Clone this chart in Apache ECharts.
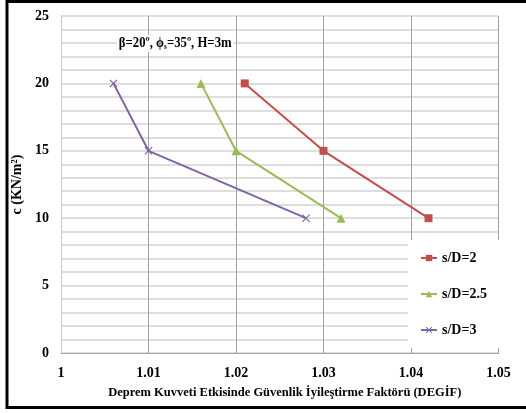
<!DOCTYPE html>
<html>
<head>
<meta charset="utf-8">
<script src="https://cdn.jsdelivr.net/npm/echarts@6/dist/echarts.min.js"></script>
<style>
  html, body { margin: 0; padding: 0; background: #fff; }
  #chart { width: 526px; height: 413px; }
</style>
</head>
<body>
<div id="chart"></div>
<script>
// Safety-improvement factor vs. cohesion for three pile spacings
const seriesNames = ['s/D=2', 's/D=2.5', 's/D=3'];
const cohesion = [20, 15, 10];
const factorSD2 = [1.021, 1.030, 1.042];
const factorSD25 = [1.016, 1.020, 1.032];
const factorSD3 = [1.006, 1.010, 1.028];
const xTicks = ['1', '1.01', '1.02', '1.03', '1.04', '1.05'];

const FONT = '"Liberation Serif", "Times New Roman", serif';
const colors = ['#C0504D', '#9BBB59', '#8064A2'];
const crossPath = 'path://M0,1L1,0L5,4L9,0L10,1L6,5L10,9L9,10L5,6L1,10L0,9L4,5Z';

function pairs(xs) {
  return xs.map((x, i) => [x, cohesion[i]]);
}

const chart = echarts.init(document.getElementById('chart'), null, { renderer: 'canvas' });

chart.setOption({
  backgroundColor: '#fff',
  animation: false,
  grid: { left: 61, right: 27.5, top: 16, bottom: 60 },
  graphic: [
    {
      type: 'rect',
      shape: { x: 7, y: 1.5, width: 540, height: 406 },
      style: { fill: 'none', stroke: '#000', lineWidth: 3 },
      silent: true
    },
    {
      type: 'text',
      x: 117,
      y: 35,
      scaleX: 0.91,
      z: 10,
      style: {
        text: '{a|β=20º, ϕ}{s|s}{a|=35º, H=3m}',
        backgroundColor: '#fff',
        padding: [1, 2, 1, 2],
        rich: {
          a: { fontFamily: FONT, fontWeight: 'bold', fontSize: 14, fill: '#000' },
          s: { fontFamily: FONT, fontWeight: 'bold', fontSize: 8, fill: '#000', padding: [7, 0, 0, 0] }
        }
      }
    }
  ],
  legend: {
    orient: 'vertical',
    left: 408,
    top: 240,
    padding: [11, 14, 11, 12],
    itemGap: 22,
    itemWidth: 16,
    itemHeight: 8,
    backgroundColor: '#fff',
    data: seriesNames,
    textStyle: { fontFamily: FONT, fontWeight: 'bold', fontSize: 14, color: '#000' }
  },
  xAxis: {
    type: 'value',
    min: 1,
    max: 1.05,
    interval: 0.01,
    name: 'Deprem Kuvveti Etkisinde Güvenlik İyileştirme Faktörü (DEGİF)',
    nameLocation: 'middle',
    nameGap: 33,
    nameTextStyle: { fontFamily: FONT, fontWeight: 'bold', fontSize: 12.5, color: '#000', padding: [0, 0, 0, 10] },
    axisLine: { lineStyle: { color: '#a6a6a6', width: 1 } },
    axisTick: { show: false },
    axisLabel: {
      margin: 13,
      fontFamily: FONT, fontWeight: 'bold', fontSize: 14, color: '#000',
      formatter: v => xTicks[Math.round((v - 1) * 100)]
    },
    splitLine: { show: true, lineStyle: { color: '#a0a0a0', width: 1 } }
  },
  yAxis: {
    type: 'value',
    min: 0,
    max: 25,
    interval: 5,
    name: 'c (KN/m²)',
    nameLocation: 'middle',
    nameGap: 36,
    nameRotate: 90,
    nameTextStyle: { fontFamily: FONT, fontWeight: 'bold', fontSize: 14, color: '#000' },
    axisLine: { show: true, lineStyle: { color: '#c8c8c8', width: 1 } },
    axisTick: { show: false },
    minorTick: { show: false, splitNumber: 5 },
    axisLabel: { margin: 12, fontFamily: FONT, fontWeight: 'bold', fontSize: 14, color: '#000' },
    splitLine: { show: true, lineStyle: { color: '#d4d4d4', width: 1.5 } },
    minorSplitLine: { show: true, lineStyle: { color: '#d4d4d4', width: 1.5 } }
  },
  series: [
    {
      name: seriesNames[0], type: 'line', data: pairs(factorSD2),
      symbol: 'rect', symbolSize: 8,
      lineStyle: { color: colors[0], width: 2 },
      itemStyle: { color: colors[0] }
    },
    {
      name: seriesNames[1], type: 'line', data: pairs(factorSD25),
      symbol: 'triangle', symbolSize: 9,
      lineStyle: { color: colors[1], width: 2 },
      itemStyle: { color: colors[1] }
    },
    {
      name: seriesNames[2], type: 'line', data: pairs(factorSD3),
      symbol: crossPath, symbolSize: 8,
      lineStyle: { color: colors[2], width: 2 },
      itemStyle: { color: colors[2] }
    }
  ]
});
</script>
</body>
</html>
